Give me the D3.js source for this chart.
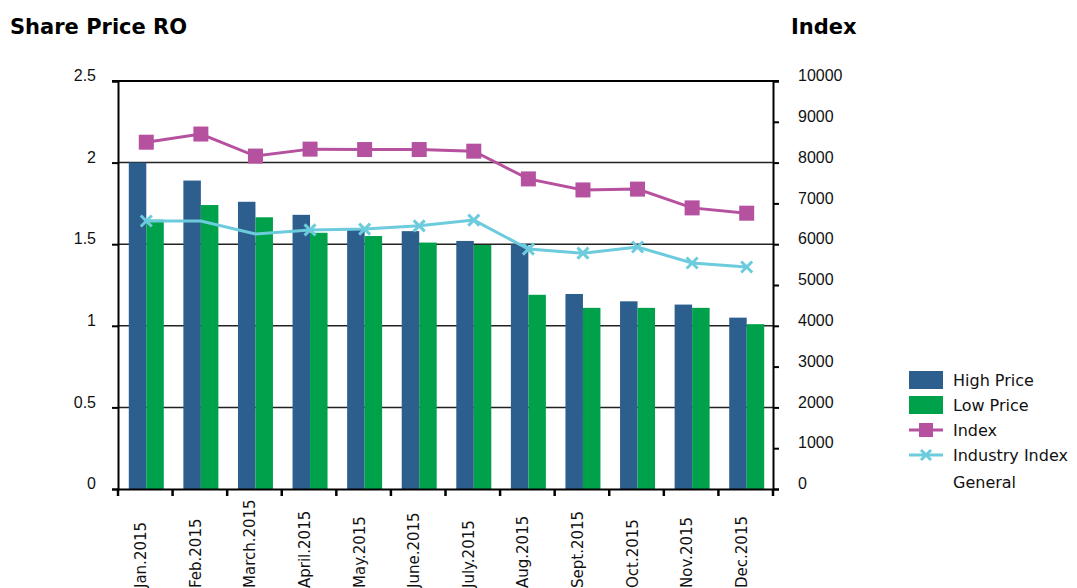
<!DOCTYPE html>
<html>
<head>
<meta charset="utf-8">
<script src="https://cdn.jsdelivr.net/npm/d3@7"></script>
<style>
  body { margin: 0; background: #fff; }
  svg { display: block; font-family: "DejaVu Sans", sans-serif; }
  .title { font-weight: bold; font-size: 21px; }
  .tick text { font-size: 16px; fill: #111; }
</style>
</head>
<body>
<svg class="chart" width="1077" height="588"></svg>
<script>
// values
const months = ['Jan.2015', 'Feb.2015', 'March.2015', 'April.2015', 'May.2015', 'June.2015',
  'July.2015', 'Aug.2015', 'Sept.2015', 'Oct.2015', 'Nov.2015', 'Dec.2015'];
const highPrice = [2.0, 1.89, 1.76, 1.68, 1.59, 1.58, 1.52, 1.50, 1.195, 1.15, 1.13, 1.05];
const lowPrice = [1.65, 1.74, 1.665, 1.57, 1.55, 1.51, 1.495, 1.19, 1.11, 1.11, 1.11, 1.01];
const indexVals = [8500, 8700, 8160, 8330, 8320, 8320, 8280, 7600, 7330, 7350, 6890, 6760];
const industryVals = [6570, 6570, 6250, 6350, 6370, 6450, 6590, 5880, 5780, 5930, 5540, 5440];
const industryMarked = [true, false, false, true, true, true, true, true, true, true, true, true];
const leftTicks = [0, 0.5, 1, 1.5, 2, 2.5];
const rightTicks = [0, 1000, 2000, 3000, 4000, 5000, 6000, 7000, 8000, 9000, 10000];

const colors = { high: '#2d5f8e', low: '#00a14b', index: '#b5519f', industry: '#6ccbdc' };

const plotL = 118, plotR = 773, plotT = 81, plotB = 489;
const svg = d3.select('.chart');

const x = d3.scaleBand().domain(months).range([plotL, plotR]);
const xInner = d3.scaleBand().domain(['high', 'low']).range([0, x.bandwidth()]).paddingOuter(0.56).paddingInner(0);
const yL = d3.scaleLinear().domain([0, 2.5]).range([plotB, plotT]);
const yR = d3.scaleLinear().domain([0, 10000]).range([plotB, plotT]);

// titles
svg.append('text').attr('class', 'title').attr('x', 10).attr('y', 34).text('Share Price RO');
svg.append('text').attr('class', 'title').attr('x', 791).attr('y', 34).text('Index');

// gridlines
svg.append('g').selectAll('line')
  .data(leftTicks.filter(d => d > 0))
  .join('line')
  .attr('x1', plotL).attr('x2', plotR)
  .attr('y1', d => yL(d)).attr('y2', d => yL(d))
  .attr('stroke', '#222').attr('stroke-width', 1.5);

// bars
const groups = svg.append('g').selectAll('g')
  .data(months.map((m, i) => ({ m, high: highPrice[i], low: lowPrice[i] })))
  .join('g')
  .attr('transform', d => `translate(${x(d.m) + 1},0)`);
groups.append('rect')
  .attr('x', xInner('high')).attr('width', xInner.bandwidth())
  .attr('y', d => yL(d.high)).attr('height', d => plotB - yL(d.high))
  .attr('fill', colors.high);
groups.append('rect')
  .attr('x', xInner('low')).attr('width', xInner.bandwidth())
  .attr('y', d => yL(d.low)).attr('height', d => plotB - yL(d.low))
  .attr('fill', colors.low);

// axes
const axL = svg.append('g').attr('transform', `translate(${plotL},0)`)
  .call(d3.axisLeft(yL).tickValues(leftTicks).tickSize(6).tickPadding(16).tickFormat(d3.format('')));
const axR = svg.append('g').attr('transform', `translate(${plotR},0)`)
  .call(d3.axisRight(yR).tickValues(rightTicks).tickSize(6).tickPadding(19).tickFormat(d3.format('d')));
const axB = svg.append('g').attr('transform', `translate(0,${plotB})`)
  .call(d3.axisBottom(x).tickSize(0).tickFormat(''));
[axL, axR, axB].forEach(a => {
  a.select('.domain').attr('stroke', '#000').attr('stroke-width', 2);
  a.selectAll('.tick line').attr('stroke', '#000').attr('stroke-width', 2);
  a.selectAll('.tick text').attr('dy', '-0.02em');
});
// top border of plot
svg.append('line').attr('x1', plotL - 6).attr('x2', plotR + 6)
  .attr('y1', plotT).attr('y2', plotT).attr('stroke', '#000').attr('stroke-width', 2);

// category boundary ticks on x axis
const bounds = months.map(m => x(m)).concat([plotR]);
svg.append('g').selectAll('line').data(bounds).join('line')
  .attr('x1', d => d).attr('x2', d => d)
  .attr('y1', plotB).attr('y2', plotB + 7)
  .attr('stroke', '#000').attr('stroke-width', 2.5);

// x labels
svg.append('g').selectAll('text').data(months).join('text')
  .attr('transform', d => `translate(${x(d) + x.bandwidth() / 2 + 1},588) rotate(-90)`)
  .attr('font-size', 15).attr('fill', '#111')
  .text(d => d);

// lines
const cx = m => x(m) + x.bandwidth() / 2 + 1;
const line = d3.line().x(d => cx(d.m)).y(d => yR(d.v));
const idxData = months.map((m, i) => ({ m, v: indexVals[i] }));
const indData = months.map((m, i) => ({ m, v: industryVals[i], mark: industryMarked[i] }));

svg.append('path').datum(indData).attr('d', line)
  .attr('fill', 'none').attr('stroke', colors.industry).attr('stroke-width', 3);
svg.append('g').selectAll('path').data(indData.filter(d => d.mark)).join('path')
  .attr('d', d => { const px = cx(d.m), py = yR(d.v), s = 5.5;
    return `M${px - s},${py - s}L${px + s},${py + s}M${px - s},${py + s}L${px + s},${py - s}`; })
  .attr('stroke', colors.industry).attr('stroke-width', 3);

svg.append('path').datum(idxData).attr('d', line)
  .attr('fill', 'none').attr('stroke', colors.index).attr('stroke-width', 3);
svg.append('g').selectAll('rect').data(idxData).join('rect')
  .attr('x', d => cx(d.m) - 7.5).attr('y', d => yR(d.v) - 7.5)
  .attr('width', 15).attr('height', 15).attr('fill', colors.index);

// legend
const legend = svg.append('g').attr('transform', 'translate(909,0)');
const items = [
  { label: 'High Price', type: 'rect', color: colors.high, y: 380 },
  { label: 'Low Price', type: 'rect', color: colors.low, y: 405 },
  { label: 'Index', type: 'square', color: colors.index, y: 430 },
  { label: 'Industry Index', type: 'cross', color: colors.industry, y: 455 }
];
items.forEach(it => {
  if (it.type === 'rect') {
    legend.append('rect').attr('x', 0).attr('y', it.y - 9).attr('width', 34).attr('height', 18).attr('fill', it.color);
  } else {
    legend.append('line').attr('x1', 0).attr('x2', 34).attr('y1', it.y).attr('y2', it.y)
      .attr('stroke', it.color).attr('stroke-width', 3);
    if (it.type === 'square') {
      legend.append('rect').attr('x', 10).attr('y', it.y - 7).attr('width', 14).attr('height', 14).attr('fill', it.color);
    } else {
      legend.append('path').attr('d', `M12,${it.y - 5}L22,${it.y + 5}M12,${it.y + 5}L22,${it.y - 5}`)
        .attr('stroke', it.color).attr('stroke-width', 3);
    }
  }
  legend.append('text').attr('x', 44).attr('y', it.y + 6).attr('font-size', 16).attr('fill', '#111').text(it.label);
});
legend.append('text').attr('x', 44).attr('y', 488).attr('font-size', 16).attr('fill', '#111').text('General');
</script>
</body>
</html>
